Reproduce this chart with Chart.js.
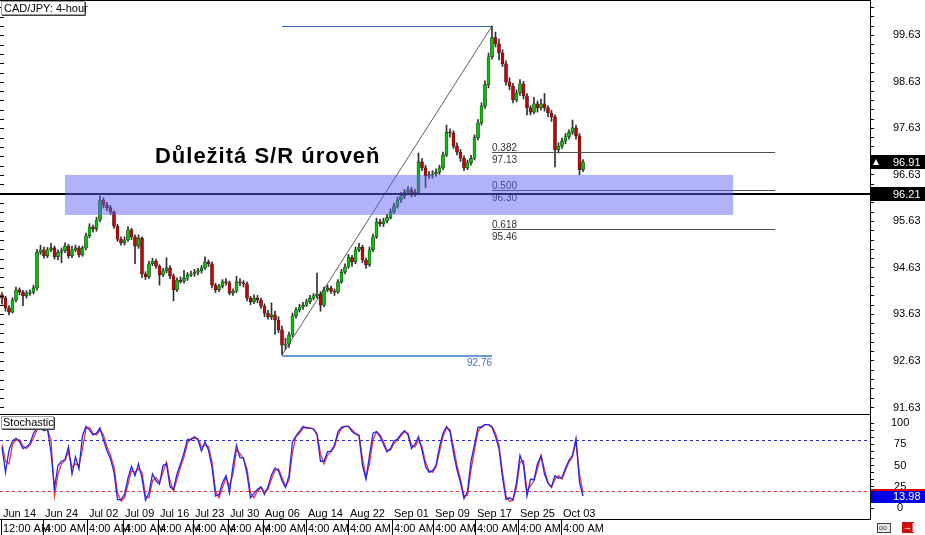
<!DOCTYPE html>
<html><head><meta charset="utf-8">
<script src="https://cdn.jsdelivr.net/npm/chart.js@4/dist/chart.umd.min.js"></script>
<style>
html,body{margin:0;padding:0;background:#fff;overflow:hidden}
#wrap{position:relative;width:925px;height:535px;background:#fff}
.pane{position:absolute;left:0;width:925px}
</style></head><body>
<div id="wrap">
<div class="pane" style="top:0;height:414px"><canvas id="c1"></canvas></div>
<div class="pane" style="top:414px;height:121px"><canvas id="c2"></canvas></div>
</div>
<script>
// ---------- DATA ----------
const SYMBOL_TITLE = 'CAD/JPY: 4-hour';
const INDICATOR_TITLE = 'Stochastic';
const HEADLINE = 'Důležitá S/R úroveň';

const OPEN = [94.05,93.98,93.77,93.68,93.94,94.16,94.11,94.03,94.09,94.11,
94.20,94.97,95.02,94.89,95.02,95.06,94.87,94.97,95.00,95.10,
94.89,95.02,95.06,94.91,95.06,95.32,95.51,95.47,95.66,96.09,
95.98,95.92,95.83,95.53,95.25,95.17,95.23,95.45,95.30,95.10,
95.27,94.50,94.44,94.72,94.78,94.67,94.48,94.57,94.63,94.46,
94.16,94.37,94.34,94.41,94.48,94.50,94.54,94.57,94.63,94.76,
94.72,94.26,94.16,94.24,94.33,94.31,94.09,94.13,94.33,94.31,
94.29,93.98,93.90,93.98,93.94,93.81,93.66,93.58,93.62,93.51,
93.30,92.97,92.99,93.19,93.60,93.73,93.79,93.83,93.90,93.98,
94.03,94.07,93.83,94.16,94.20,94.13,94.11,94.33,94.54,94.65,
94.85,94.76,95.02,95.08,94.80,94.70,95.02,95.30,95.62,95.58,
95.64,95.71,95.83,95.96,96.09,96.18,96.26,96.31,96.22,96.26,
96.91,96.78,96.61,96.63,96.65,96.69,96.78,97.06,97.55,97.53,
97.25,97.12,96.99,96.78,96.89,96.99,97.43,97.75,98.11,98.57,
99.17,99.58,99.45,99.25,99.02,98.63,98.54,98.24,98.39,98.59,
98.33,98.07,97.98,98.16,98.07,98.16,98.07,97.96,97.88,97.17,
97.25,97.36,97.45,97.55,97.64,97.47,96.74];
const HIGH = [94.10,94.02,93.82,93.99,94.22,94.20,94.15,94.14,94.16,94.26,
95.03,95.12,95.08,95.07,95.16,95.10,95.02,95.06,95.17,95.14,
95.10,95.12,95.10,95.10,95.38,95.58,95.55,95.72,96.18,96.14,
96.04,95.97,95.86,95.57,95.30,95.30,95.52,95.48,95.34,95.34,
95.30,94.55,94.78,94.84,94.82,94.70,94.62,94.85,94.68,94.50,
94.42,94.44,94.58,94.53,94.56,94.60,94.62,94.68,94.87,94.80,
94.76,94.30,94.28,94.38,94.40,94.35,94.18,94.45,94.40,94.36,
94.33,94.02,94.05,94.04,93.98,93.86,93.72,93.88,93.70,93.58,
93.38,93.12,93.25,93.66,93.78,93.85,93.89,93.96,94.04,94.08,
94.52,94.12,94.22,94.26,94.24,94.18,94.38,94.60,94.72,94.92,
94.90,95.08,95.16,95.12,94.84,95.08,95.36,95.70,95.68,95.70,
95.78,95.90,96.02,96.15,96.25,96.32,96.38,96.36,96.32,97.10,
96.98,96.84,96.70,96.72,96.76,96.84,97.12,97.70,97.62,97.58,
97.32,97.18,97.04,96.95,97.05,97.49,97.82,98.18,98.65,99.25,
99.83,99.70,99.55,99.32,99.08,98.72,98.60,98.46,98.68,98.64,
98.38,98.12,98.30,98.22,98.26,98.38,98.12,98.02,97.92,97.32,
97.42,97.52,97.60,97.81,97.70,97.52,96.96];
const LOW = [93.85,93.70,93.62,93.66,93.90,94.05,93.82,93.98,94.04,94.07,
94.15,94.92,94.84,94.85,94.98,94.82,94.80,94.74,94.96,94.84,
94.85,94.98,94.86,94.88,95.02,95.28,95.40,95.42,95.62,95.92,
95.86,95.78,95.48,95.20,95.12,95.12,95.20,95.24,94.72,95.05,
94.42,94.38,94.40,94.68,94.62,94.26,94.44,94.52,94.40,93.92,
94.12,94.30,94.30,94.36,94.44,94.45,94.48,94.52,94.60,94.66,
94.20,94.10,94.12,94.20,94.26,94.05,94.04,94.10,94.25,94.22,
93.92,93.84,93.86,93.88,93.76,93.58,93.53,93.52,93.20,93.24,
92.76,92.88,92.92,93.15,93.55,93.68,93.74,93.80,93.86,93.94,
93.98,93.70,93.80,94.12,94.08,94.04,94.08,94.30,94.50,94.62,
94.66,94.72,94.98,94.74,94.62,94.66,94.98,95.26,95.52,95.52,
95.60,95.68,95.80,95.92,96.04,96.12,96.20,96.16,96.17,96.22,
96.72,96.36,96.55,96.56,96.60,96.64,96.74,97.02,97.44,97.20,
97.06,96.92,96.72,96.74,96.84,96.95,97.38,97.70,98.06,98.50,
99.12,99.38,99.10,98.96,98.56,98.46,98.18,98.20,98.34,98.26,
97.92,97.92,97.94,97.98,98.02,98.00,97.88,97.78,96.80,97.10,
97.20,97.30,97.40,97.50,97.40,96.63,96.70];
const CLOSE = [93.98,93.77,93.68,93.94,94.16,94.11,94.03,94.09,94.11,94.20,
94.97,95.02,94.89,95.02,95.06,94.87,94.97,95.00,95.10,94.89,
95.02,95.06,94.91,95.06,95.32,95.51,95.47,95.66,96.09,95.98,
95.92,95.83,95.53,95.25,95.17,95.23,95.45,95.30,95.10,95.27,
94.50,94.44,94.72,94.78,94.67,94.48,94.57,94.63,94.46,94.16,
94.37,94.34,94.41,94.48,94.50,94.54,94.57,94.63,94.76,94.72,
94.26,94.16,94.24,94.33,94.31,94.09,94.13,94.33,94.31,94.29,
93.98,93.90,93.98,93.94,93.81,93.66,93.58,93.62,93.51,93.30,
92.97,92.99,93.19,93.60,93.73,93.79,93.83,93.90,93.98,94.03,
94.07,93.83,94.16,94.20,94.13,94.11,94.33,94.54,94.65,94.85,
94.76,95.02,95.08,94.80,94.70,95.02,95.30,95.62,95.58,95.64,
95.71,95.83,95.96,96.09,96.18,96.26,96.31,96.22,96.26,96.91,
96.78,96.61,96.63,96.65,96.69,96.78,97.06,97.55,97.53,97.25,
97.12,96.99,96.78,96.89,96.99,97.43,97.75,98.11,98.57,99.17,
99.58,99.45,99.25,99.02,98.63,98.54,98.24,98.39,98.59,98.33,
98.07,97.98,98.16,98.07,98.16,98.07,97.96,97.88,97.17,97.25,
97.36,97.45,97.55,97.64,97.47,96.74,96.91];

const STOCH_K = [72,42,68,79,82,78,70,72,76,88,
94,94,91,93,65,24,50,55,57,72,
40,60,46,85,96,92,86,88,94,80,
67,58,42,10,10,16,35,49,38,52,
35,9,18,40,32,28,50,52,25,22,
40,52,65,81,80,84,80,67,78,68,
48,14,16,30,38,18,50,74,59,59,
40,12,17,22,25,16,25,39,47,44,
32,24,38,78,85,90,96,94,94,93,
86,55,55,66,67,74,90,95,96,96,
90,87,85,50,34,62,88,90,84,75,
66,70,79,81,87,91,86,70,75,84,
68,49,42,44,50,72,88,96,90,65,
45,30,11,20,55,75,95,95,98,98,
95,84,70,36,10,12,10,30,62,50,
14,34,33,52,61,40,29,25,38,35,
36,47,56,62,82,30,13.98];
const STOCH_D = [75,55,52,75,80,80,73,70,74,82,
92,95,92,92,80,14,40,52,56,66,
48,52,50,70,93,95,88,86,92,86,
72,62,48,18,8,12,28,44,42,46,
42,14,12,32,36,30,42,54,32,20,
34,48,60,76,82,82,82,72,74,72,
55,20,12,24,36,26,40,68,64,58,
46,18,12,20,24,19,22,34,44,46,
36,26,32,66,84,88,94,95,94,93,
88,64,52,62,66,72,86,93,96,96,
92,88,86,58,36,52,80,90,86,78,
68,68,76,80,85,90,88,74,72,80,
72,54,44,42,48,66,84,94,92,72,
50,34,14,15,45,68,90,96,98,98,
96,88,74,42,14,8,9,24,54,56,
20,26,32,46,62,45,30,24,34,38,
34,44,54,60,78,40,18];

const PRICE_TICK_LABELS = ['91.63','92.63','93.63','94.63','95.63','96.63','97.63','98.63','99.63'];
const STOCH_TICK_LABELS = ['0','25','50','75','100'];
const STOCH_LEVELS = [80, 20];
const DATE_LABELS = ['Jun 14','Jun 24','Jul 02','Jul 09','Jul 16','Jul 23','Jul 30','Aug 06','Aug 14','Aug 22','Sep 01','Sep 09','Sep 17','Sep 25','Oct 03'];
const TIME_LABELS = ['12:00 AM','4:00 AM','4:00 AM','4:00 AM','4:00 AM','4:00 AM','4:00 AM','4:00 AM','4:00 AM','4:00 AM','4:00 AM','4:00 AM','4:00 AM','4:00 AM','4:00 AM'];
const DATE_TICK_INDEX = [-0.2,11.71,24.29,34.57,44.57,54.57,64.57,74.57,86.86,98.86,111.43,123.14,135.14,147.43,159.71];

const SWING_LOW_INDEX = 80, SWING_LOW = 92.76;
const SWING_HIGH_INDEX = 140, SWING_HIGH = 99.83;
const FIB_RATIOS = [0.382, 0.5, 0.618];
const FIB_PRICES = [97.13, 96.30, 95.46];
const FIB_END_INDEX = 220.9;
const ZONE_FROM_INDEX = 18, ZONE_TO_INDEX = 208.9, ZONE_TOP = 96.63, ZONE_BOTTOM = 95.77;
const SR_LEVEL = 96.21;
const LAST_PRICE = 96.91;
const HEADLINE_INDEX = 43.7, HEADLINE_PRICE = 96.89;

// view ranges
const X_MIN = -0.571, X_MAX = 248;
const P_MIN = 91.49, P_MAX = 100.39;
const S_MIN = -12.9, S_MAX = 110.6;

// ---------- CHART ----------
const FONT = '"Liberation Sans", Arial, sans-serif';
const GREEN = '#00c800', RED = '#d00000';

const priceMinor = [];
for (let k = 0; ; k++) { const v = Math.round((91.63 + 0.2 * k) * 100) / 100; if (v > P_MAX) break; priceMinor.push(v); }
const stochMinor = [];
for (let k = 0; k <= 12; k++) stochMinor.push(k * 25 / 3);

const wickData = LOW.map((l, i) => ({x: i, y: [l, HIGH[i]]}));
const bodyData = OPEN.map((o, i) => ({x: i, y: [o, CLOSE[i]]}));
const bodyColors = OPEN.map((o, i) => CLOSE[i] >= o ? GREEN : RED);

function hline(ctx, x1, x2, y) { ctx.beginPath(); ctx.moveTo(x1, y); ctx.lineTo(x2, y); ctx.stroke(); }

const priceOverlay = {
  id: 'priceOverlay',
  afterDatasetsDraw(chart) {
    const {ctx, chartArea: a, scales: {x, y}} = chart;
    const px = v => x.getPixelForValue(v), py = v => y.getPixelForValue(v);
    ctx.save();
    ctx.beginPath(); ctx.rect(a.left, a.top, a.right - a.left, a.bottom - a.top); ctx.clip();
    // swing range
    ctx.strokeStyle = '#2f6cc4'; ctx.lineWidth = 1;
    hline(ctx, px(SWING_LOW_INDEX), px(SWING_HIGH_INDEX), Math.round(py(SWING_HIGH)) + 0.5);
    ctx.strokeStyle = '#3a78c8'; ctx.lineWidth = 1.6;
    hline(ctx, px(SWING_LOW_INDEX), px(SWING_HIGH_INDEX), Math.round(py(SWING_LOW)) + 1);
    ctx.strokeStyle = '#333'; ctx.lineWidth = 0.8;
    ctx.beginPath(); ctx.moveTo(px(SWING_LOW_INDEX), py(SWING_LOW)); ctx.lineTo(px(SWING_HIGH_INDEX), py(SWING_HIGH)); ctx.stroke();
    ctx.font = '10px ' + FONT; ctx.fillStyle = '#3a72c0'; ctx.textAlign = 'right'; ctx.textBaseline = 'alphabetic';
    ctx.fillText(SWING_LOW.toFixed(2), px(SWING_HIGH_INDEX), py(SWING_LOW) + 11);
    // fib levels
    FIB_RATIOS.forEach((r, k) => {
      const yy = Math.round(py(FIB_PRICES[k])) + 0.5;
      ctx.strokeStyle = '#505050'; ctx.lineWidth = 1;
      hline(ctx, px(SWING_HIGH_INDEX), px(FIB_END_INDEX), yy);
      ctx.fillStyle = '#333'; ctx.textAlign = 'left';
      ctx.fillText(r.toFixed(3), px(SWING_HIGH_INDEX), yy - 2);
      ctx.fillText(FIB_PRICES[k].toFixed(2), px(SWING_HIGH_INDEX), yy + 10);
    });
    // S/R line
    ctx.strokeStyle = '#000'; ctx.lineWidth = 2;
    hline(ctx, a.left, a.right, Math.round(py(SR_LEVEL)));
    // headline
    ctx.fillStyle = '#000'; ctx.font = 'bold 22px ' + FONT; ctx.textAlign = 'left';
    if ('letterSpacing' in ctx) ctx.letterSpacing = '1px';
    ctx.fillText(HEADLINE, px(HEADLINE_INDEX), py(HEADLINE_PRICE));
    if ('letterSpacing' in ctx) ctx.letterSpacing = '0px';
    // zone
    ctx.fillStyle = 'rgba(95,95,242,0.48)';
    const zx = px(ZONE_FROM_INDEX), zy = py(ZONE_TOP);
    ctx.fillRect(zx, zy, px(ZONE_TO_INDEX) - zx, py(ZONE_BOTTOM) - zy);
    // left edge marks
    ctx.strokeStyle = '#000'; ctx.lineWidth = 1;
    priceMinor.forEach(v => hline(ctx, a.left, a.left + 4, Math.round(py(v)) + 0.5));
    ctx.restore();
  },
  afterDraw(chart) {
    const {ctx, chartArea: a, scales: {y}} = chart;
    const py = v => y.getPixelForValue(v);
    ctx.save();
    // top border
    ctx.strokeStyle = '#000'; ctx.lineWidth = 1; hline(ctx, 0, a.right, 0.5);
    // title box
    ctx.fillStyle = '#fff'; ctx.fillRect(1, 1, 84, 14);
    ctx.strokeStyle = '#a0a0a0'; ctx.strokeRect(1.5, 1.5, 83, 13);
    ctx.strokeStyle = '#404040'; ctx.beginPath(); ctx.moveTo(85.5, 2); ctx.lineTo(85.5, 15.5); ctx.lineTo(2, 15.5); ctx.stroke();
    ctx.fillStyle = '#000'; ctx.font = '11px ' + FONT; ctx.textAlign = 'left'; ctx.textBaseline = 'middle';
    ctx.fillText(SYMBOL_TITLE, 4, 8.5);
    // price boxes
    const box = (val, withArrow) => {
      const yc = Math.round(py(val));
      ctx.fillStyle = '#000'; ctx.fillRect(a.right + 1, yc - 7, 925 - a.right, 14);
      ctx.fillStyle = '#fff'; ctx.font = '11px ' + FONT; ctx.textBaseline = 'middle';
      ctx.fillText(val.toFixed(2), 893, yc + 0.5);
      if (withArrow) { ctx.beginPath(); ctx.moveTo(873, yc + 3); ctx.lineTo(879, yc + 3); ctx.lineTo(876, yc - 3); ctx.closePath(); ctx.fill(); }
    };
    box(LAST_PRICE, true);
    box(SR_LEVEL, false);
    ctx.restore();
  }
};

const stochOverlay = {
  id: 'stochOverlay',
  beforeDatasetsDraw(chart) {
    const {ctx, chartArea: a, scales: {y}} = chart;
    ctx.save();
    ctx.lineWidth = 1; ctx.setLineDash([3, 3]);
    ctx.strokeStyle = '#2a2ad8'; hline(ctx, a.left, a.right, Math.round(y.getPixelForValue(STOCH_LEVELS[0])) + 0.5);
    ctx.strokeStyle = '#e03a3a'; hline(ctx, a.left, a.right, Math.round(y.getPixelForValue(STOCH_LEVELS[1])) + 0.5);
    ctx.restore();
  },
  afterDraw(chart) {
    const {ctx, chartArea: a, scales: {x, y}} = chart;
    ctx.save();
    ctx.strokeStyle = '#000'; ctx.lineWidth = 1;
    hline(ctx, 0, a.right, 0.5);
    hline(ctx, 0, a.right, a.bottom + 0.5);
    // label box
    ctx.fillStyle = '#fff'; ctx.fillRect(1, 2, 53, 13);
    ctx.strokeStyle = '#a0a0a0'; ctx.strokeRect(1.5, 2.5, 52, 12);
    ctx.strokeStyle = '#404040'; ctx.beginPath(); ctx.moveTo(54.5, 3); ctx.lineTo(54.5, 15.5); ctx.lineTo(2, 15.5); ctx.stroke();
    ctx.fillStyle = '#000'; ctx.font = '11px ' + FONT; ctx.textAlign = 'left'; ctx.textBaseline = 'middle';
    ctx.fillText(INDICATOR_TITLE, 3, 9);
    // date / time labels
    DATE_TICK_INDEX.forEach((t, k) => {
      const xx = Math.round(x.getPixelForValue(t)) + 0.5;
      ctx.strokeStyle = '#000'; ctx.beginPath(); ctx.moveTo(xx, a.bottom + 1); ctx.lineTo(xx, a.bottom + 16); ctx.stroke();
      ctx.fillStyle = '#000';
      ctx.fillText(DATE_LABELS[k], xx + 1.5, a.bottom - 5);
      ctx.fillText(TIME_LABELS[k], xx + 1.5, a.bottom + 9.5);
    });
    // last value box
    const last = STOCH_K[STOCH_K.length - 1];
    const yc = Math.round(y.getPixelForValue(last));
    ctx.fillStyle = '#0000e6'; ctx.fillRect(a.right + 1, yc - 6, 925 - a.right, 13);
    ctx.fillStyle = '#e00000'; ctx.fillRect(a.right + 1, yc - 7, 925 - a.right, 2);
    ctx.fillStyle = '#fff'; ctx.fillText(last.toFixed(2), 893, yc + 1);
    // corner icons
    ctx.fillStyle = '#e8e8e8'; ctx.fillRect(877, a.bottom + 4, 14, 10);
    ctx.strokeStyle = '#444'; ctx.strokeRect(877.5, a.bottom + 4.5, 13, 9);
    ctx.fillStyle = '#333'; ctx.font = '7px ' + FONT; ctx.fillText('oo', 879, a.bottom + 9.5);
    ctx.fillStyle = '#d01010'; ctx.fillRect(902, a.bottom + 3, 12, 11);
    ctx.fillStyle = '#fff'; ctx.font = 'bold 9px ' + FONT; ctx.fillText('→|', 903, a.bottom + 9);
    ctx.restore();
  }
};

function yAxis(min, max, minor, labels, padding, crossAlign) {
  return {
    position: 'right', min, max,
    afterFit(s) { s.width = 55; s.paddingTop = 0; s.paddingBottom = 0; },
    afterBuildTicks(s) { s.ticks = minor.map(v => ({value: v})); },
    ticks: {
      autoSkip: false, padding, crossAlign, color: '#000',
      font: {family: FONT, size: 11},
      callback: v => { const l = labels.find(t => Math.abs(parseFloat(t) - v) < 1e-6); return l === undefined ? '' : l; }
    },
    grid: {drawOnChartArea: false, tickLength: 4, color: '#000'},
    border: {display: true, color: '#000', width: 1}
  };
}

const xAxis = {type: 'linear', min: X_MIN, max: X_MAX, offset: false, display: false};

new Chart(document.getElementById('c1'), {
  type: 'bar',
  data: {datasets: [
    {data: bodyData, backgroundColor: bodyColors, borderColor: '#1a1a1a', borderWidth: 0.6, borderSkipped: false, barThickness: 3, grouped: false},
    {data: wickData, backgroundColor: '#303030', barThickness: 1, grouped: false}
  ]},
  options: {
    responsive: true, maintainAspectRatio: false, animation: false, devicePixelRatio: 1,
    layout: {padding: 0},
    plugins: {legend: {display: false}, tooltip: {enabled: false}},
    scales: {x: xAxis, y: yAxis(P_MIN, P_MAX, priceMinor, PRICE_TICK_LABELS, 19, 'near')}
  },
  plugins: [priceOverlay]
});

new Chart(document.getElementById('c2'), {
  type: 'line',
  data: {datasets: [
    {data: STOCH_K.map((v, i) => ({x: i, y: v})), borderColor: '#2424f0', borderWidth: 1.3, pointRadius: 0, tension: 0},
    {data: STOCH_D.map((v, i) => ({x: i, y: v})), borderColor: '#f03232', borderWidth: 1.3, pointRadius: 0, tension: 0}
  ]},
  options: {
    responsive: true, maintainAspectRatio: false, animation: false, devicePixelRatio: 1,
    layout: {padding: {bottom: 16}},
    plugins: {legend: {display: false}, tooltip: {enabled: false}},
    scales: {x: xAxis, y: yAxis(S_MIN, S_MAX, stochMinor, STOCH_TICK_LABELS, 17, 'center')}
  },
  plugins: [stochOverlay]
});
</script>
</body></html>
